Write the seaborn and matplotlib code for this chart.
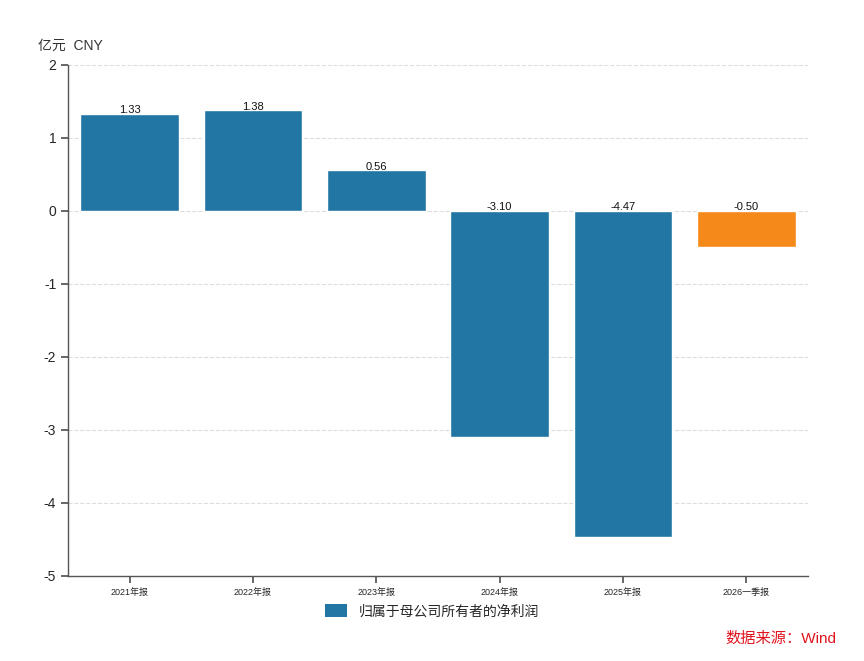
import pandas as pd
import matplotlib.pyplot as plt
import seaborn as sns
from matplotlib.patches import Patch

periods = ['2021年报', '2022年报', '2023年报', '2024年报', '2025年报', '2026一季报']
profits = [1.33, 1.38, 0.56, -3.10, -4.47, -0.50]
kinds = ['年报', '年报', '年报', '年报', '年报', '季报']
yticks = [2, 1, 0, -1, -2, -3, -4, -5]

sns.set_theme(style='white')
plt.rcParams['font.family'] = ['Liberation Sans', 'Noto Sans CJK SC', 'DejaVu Sans']
plt.rcParams['axes.unicode_minus'] = False

df = pd.DataFrame({'period': periods, 'profit': profits, 'kind': kinds})

fig = plt.figure(figsize=(8.64, 6.61), dpi=100)
ax = fig.add_axes([0.0787, 0.1286, 0.8565, 0.7731])

sns.barplot(data=df, x='period', y='profit', hue='kind',
            palette={'年报': '#2176a3', '季报': '#f5891a'},
            dodge=False, width=0.8, saturation=1, legend=False, ax=ax)

# labels sit on the bar top (or on the zero line for losses)
for i, v in enumerate(profits):
    ax.text(i, max(v, 0) - 0.02, f'{v:.2f}', ha='center', va='bottom',
            fontsize=8, color='#111111')

ax.set_ylim(-5, 2)
ax.set_yticks(yticks)
ax.set_yticklabels([str(t) for t in yticks], fontsize=10)
ax.tick_params(axis='x', labelsize=6.5, length=5, color='#555555', bottom=True)
ax.tick_params(axis='y', length=5, color='#555555', left=True)
ax.set_xlabel('')
ax.set_ylabel('')
for t in yticks[:-1]:
    ax.axhline(t, color='#dddddd', linestyle='--', linewidth=0.8, zorder=0)
ax.set_axisbelow(True)

for s in ['top', 'right']:
    ax.spines[s].set_visible(False)
for s in ['left', 'bottom']:
    ax.spines[s].set_color('#555555')
    ax.spines[s].set_linewidth(1)

fig.text(0.044, 0.925, '亿元  CNY', fontsize=10, color='#333333')

handle = Patch(facecolor='#2176a3', edgecolor='none')
fig.legend([handle], ['归属于母公司所有者的净利润'], loc='center',
           bbox_to_anchor=(0.5, 0.075), frameon=False, fontsize=10,
           handlelength=1.6, handleheight=1.0)

fig.text(0.968, 0.028, '数据来源：Wind', ha='right', fontsize=11, color='#e0141e')

fig.savefig('out.png', dpi=100)
